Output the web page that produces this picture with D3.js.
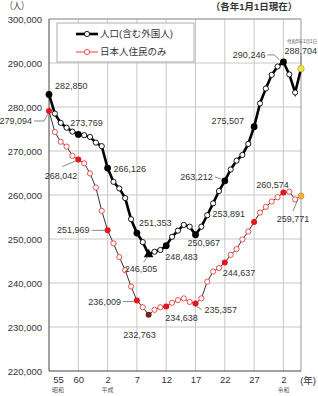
<!DOCTYPE html>
<html>
<head>
<meta charset="utf-8">
<script src="https://cdn.jsdelivr.net/npm/d3@7"></script>
<style>
  body { margin: 0; background: #fff; }
  svg { display: block; font-family: "Liberation Sans", Arial, "Noto Sans CJK JP", sans-serif; }
  .lbl { font-size: 9px; fill: #333; }
  .axis text { font-size: 9.5px; fill: #333; }
  .axis path, .axis line { display: none; }
</style>
</head>
<body>
<svg width="318" height="396"></svg>
<script>
const years = d3.range(1980, 2024);
const total = [
  282850, 278500, 276400, 275300, 274400, 273769, 273600, 273200, 271900, 271100,
  266126, 263000, 261500, 259300, 254500, 251353, 249300, 246505, 247100, 247500,
  248483, 250500, 251900, 253200, 252800, 250967, 252800, 255400, 258100, 260900,
  263212, 265800, 267800, 269100, 271600, 275507, 280800, 284200, 287300, 289200,
  290246, 287400, 283300, 288704
];
const japanese = [
  279094, 274300, 272100, 271000, 268900, 268042, 267200, 264900, 261700, 256400,
  251969, 249000, 245900, 242900, 239200, 236009, 234500, 232763, 233900, 234500,
  234638, 235500, 236100, 236500, 235700, 235357, 236500, 240300, 242600, 243400,
  244637, 246400, 247700, 249900, 251700, 253891, 256000, 257300, 258500, 259500,
  260574, 260750, 259000, 259771
];
const xTicks = [1980, 1985, 1990, 1995, 2000, 2005, 2010, 2015, 2020];
const xTickLabels = ["55", "60", "2", "7", "12", "17", "22", "27", "2"];
const eraLabels = { 1980: "昭和", 1990: "平成", 2020: "令和" };
const yTicks = [220000, 230000, 240000, 250000, 260000, 270000, 280000, 290000, 300000];
const labelYears = [1980, 1985, 1990, 1995, 1997, 2000, 2005, 2010, 2015, 2020, 2023];
const seriesNames = ["人口(含む外国人)", "日本人住民のみ"];

const svg = d3.select("svg");
const x = d3.scaleLinear().domain([1980, 2023]).range([49, 301]);
const y = d3.scaleLinear().domain([220000, 300000]).range([371, 19]);
const fmt = d3.format(",");

// grid
svg.append("g").selectAll("line").data(yTicks.slice(1)).join("line")
  .attr("x1", x(1980)).attr("x2", x(2023))
  .attr("y1", d => y(d)).attr("y2", d => y(d))
  .attr("stroke", "#c8c8c8").attr("stroke-width", 1);
svg.append("g").selectAll("line").data(xTicks.slice(1)).join("line")
  .attr("x1", d => x(d)).attr("x2", d => x(d))
  .attr("y1", y(220000)).attr("y2", y(300000))
  .attr("stroke", "#c8c8c8").attr("stroke-width", 1);
svg.append("line").attr("x1", x(2023)).attr("x2", x(2023))
  .attr("y1", y(220000)).attr("y2", y(300000)).attr("stroke", "#999");
svg.append("line").attr("x1", x(1980)).attr("x2", x(2023))
  .attr("y1", y(300000)).attr("y2", y(300000)).attr("stroke", "#999");
svg.append("line").attr("x1", x(1980)).attr("x2", x(1980))
  .attr("y1", y(220000)).attr("y2", y(300000)).attr("stroke", "#444");
svg.append("line").attr("x1", x(1980)).attr("x2", x(2023))
  .attr("y1", y(220000)).attr("y2", y(220000)).attr("stroke", "#444");

// axes
svg.append("g").attr("class", "axis")
  .attr("transform", `translate(${x(1980)},0)`)
  .call(d3.axisLeft(y).tickValues(yTicks).tickFormat(fmt).tickSize(0).tickPadding(7));
const xa = svg.append("g").attr("class", "axis")
  .attr("transform", `translate(0,${y(220000)})`)
  .call(d3.axisBottom(x).tickValues(xTicks).tickFormat((d, i) => xTickLabels[i]).tickSize(0).tickPadding(5));
xa.selectAll(".tick text").filter(d => d === 1980).attr("dx", 9);
svg.append("g").selectAll("text").data(Object.keys(eraLabels)).join("text")
  .attr("x", d => x(+d) + (+d === 1980 ? 9 : 0))
  .attr("y", 392)
  .attr("text-anchor", "middle")
  .attr("font-size", 6)
  .attr("fill", "#555")
  .text(d => eraLabels[d]);

svg.append("text").attr("x", 5).attr("y", 9).attr("font-size", 9.5).attr("fill", "#333")
  .attr("textLength", 24).attr("lengthAdjust", "spacingAndGlyphs").text("（人）");
svg.append("text").attr("x", 254).attr("y", 10).attr("text-anchor", "middle")
  .attr("font-size", 9.5).attr("font-weight", "bold").attr("fill", "#333").text("（各年1月1日現在）");
svg.append("text").attr("x", 316).attr("y", 384).attr("text-anchor", "end")
  .attr("font-size", 9.5).attr("fill", "#333").text("(年)");

// series
const rowsT = years.map((yr, i) => ({ yr, v: total[i] }));
const rowsJ = years.map((yr, i) => ({ yr, v: japanese[i] }));
const line = d3.line().x(d => x(d.yr)).y(d => y(d.v));

svg.append("path").datum(rowsJ).attr("d", line)
  .attr("fill", "none").attr("stroke", "#333").attr("stroke-width", 1);
svg.append("path").datum(rowsT).attr("d", line)
  .attr("fill", "none").attr("stroke", "#000").attr("stroke-width", 2.6);

svg.append("g").selectAll("circle").data(rowsJ.filter(d => !labelYears.includes(d.yr))).join("circle")
  .attr("cx", d => x(d.yr)).attr("cy", d => y(d.v)).attr("r", 2.6)
  .attr("fill", "#fff").attr("stroke", "#e8403a").attr("stroke-width", 0.9);
svg.append("g").selectAll("circle").data(rowsJ.filter(d => labelYears.includes(d.yr))).join("circle")
  .attr("cx", d => x(d.yr)).attr("cy", d => y(d.v)).attr("r", 3)
  .attr("fill", d => d.yr === 2023 ? "#f3b23a" : d.yr === 1997 ? "#7a1f1f" : "#e8141c")
  .attr("stroke", d => d.yr === 2023 ? "#c08020" : "none").attr("stroke-width", 0.6);

svg.append("g").selectAll("circle").data(rowsT.filter(d => !labelYears.includes(d.yr))).join("circle")
  .attr("cx", d => x(d.yr)).attr("cy", d => y(d.v)).attr("r", 2.6)
  .attr("fill", "#fff").attr("stroke", "#000").attr("stroke-width", 0.9);
svg.append("g").selectAll("circle").data(rowsT.filter(d => labelYears.includes(d.yr) && d.yr !== 1997)).join("circle")
  .attr("cx", d => x(d.yr)).attr("cy", d => y(d.v)).attr("r", d => d.yr === 2023 ? 3.2 : 3.4)
  .attr("fill", d => d.yr === 2023 ? "#f2e83a" : "#000")
  .attr("stroke", d => d.yr === 2023 ? "#a09020" : "none").attr("stroke-width", 0.6);
const t97 = rowsT.find(d => d.yr === 1997);
svg.append("path").attr("d", d3.symbol(d3.symbolTriangle, 40)())
  .attr("transform", `translate(${x(t97.yr)},${y(t97.v)})`).attr("fill", "#000");

// annotations: [year, dx, dy, anchor, leader points relative to the point]
const notesT = [
  [1980, 6, -9, "start", null],
  [1985, -8, -12, "start", null],
  [1990, 6, 1, "start", null],
  [1995, 2, -10, "start", null],
  [1997, -24, 14, "start", [[-5, 8], [-1, 2]]],
  [2000, -1, 11, "start", null],
  [2005, -8, 8, "start", null],
  [2010, -12, -4, "end", [[-10, -4], [-4, -2]]],
  [2015, -10, -6, "end", null],
  [2020, -18, -7, "end", [[-16, -7], [-9, -7], [-4, -2]]],
  [2023, 16, -18, "end", [[0, -13], [0, -4]]]
];
const notesJ = [
  [1980, -17, 10, "end", [[-15, 10], [-5, 10], [-1, 3]]],
  [1985, -1, 16, "end", [[-16, 7], [-2, 1]]],
  [1990, -18, 0, "end", [[-16, 0], [-3, 0]]],
  [1995, -16, 1, "end", [[-14, 1], [-3, 1]]],
  [1997, -9, 20, "middle", null],
  [2000, -1, 11, "start", null],
  [2005, 9, 6, "start", [[1, 3], [6, 6]]],
  [2010, -2, 10, "start", null],
  [2015, -9, -8, "end", null],
  [2020, -11, -8, "middle", null],
  [2023, -8, 23, "middle", [[-3, 3], [-8, 15]]]
];

function annotate(rows, notes) {
  const g = svg.append("g");
  notes.forEach(([yr, dx, dy, anchor, leader]) => {
    const d = rows.find(r => r.yr === yr);
    const px = x(d.yr), py = y(d.v);
    g.append("text").attr("class", "lbl")
      .attr("x", px + dx).attr("y", py + dy).attr("dy", "0.35em")
      .attr("text-anchor", anchor).text(fmt(d.v));
    if (leader) {
      g.append("path")
        .attr("d", d3.line()(leader.map(p => [px + p[0], py + p[1]])))
        .attr("fill", "none").attr("stroke", "#555").attr("stroke-width", 0.7);
    }
  });
}
annotate(rowsT, notesT);
annotate(rowsJ, notesJ);

const last = rowsT[rowsT.length - 1];
svg.append("text").attr("x", x(last.yr) + 16).attr("y", y(last.v) - 26)
  .attr("text-anchor", "end").attr("font-size", 4.5).attr("fill", "#555").text("令和5年1月1日");

// legend
const legend = svg.append("g").attr("transform", "translate(57,23)");
legend.append("rect").attr("width", 137).attr("height", 39)
  .attr("fill", "#fff").attr("stroke", "#999").attr("stroke-width", 0.8);
const legendItems = [
  { name: seriesNames[0], line: "#000", lw: 2.6, marker: "#000", ty: 11 },
  { name: seriesNames[1], line: "#e8403a", lw: 1, marker: "#e8403a", ty: 29 }
];
legendItems.forEach(it => {
  legend.append("line").attr("x1", 19).attr("x2", 41).attr("y1", it.ty).attr("y2", it.ty)
    .attr("stroke", it.line).attr("stroke-width", it.lw);
  legend.append("circle").attr("cx", 30).attr("cy", it.ty).attr("r", 2.6)
    .attr("fill", "#fff").attr("stroke", it.marker).attr("stroke-width", 0.9);
  legend.append("text").attr("x", 43).attr("y", it.ty).attr("dy", "0.35em")
    .attr("font-size", 9.5).attr("fill", "#333").text(it.name);
});
</script>
</body>
</html>
